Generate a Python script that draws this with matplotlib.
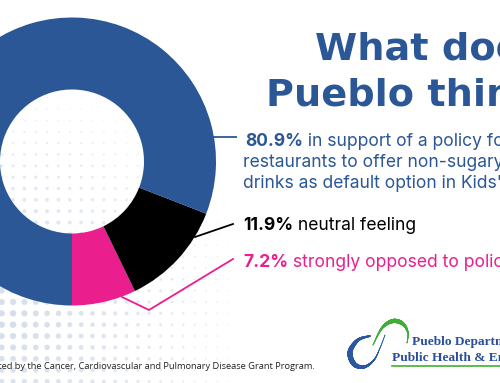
import numpy as np
import matplotlib
matplotlib.use("Agg")
import matplotlib.pyplot as plt
from matplotlib.collections import LineCollection

# ---- data ----
categories = ["in support of a policy", "neutral feeling", "strongly opposed to policy"]
values = [80.9, 11.9, 7.2]
value_labels = ["80.9%", "11.9%", "7.2%"]
label_lines = [
    ["in support of a policy for", "restaurants to offer non-sugary", "drinks as default option in Kids' meals"],
    ["neutral feeling"],
    ["strongly opposed to policy"],
]
title_lines = ["What does", "Pueblo think?"]
footer = "Supported by the Cancer, Cardiovascular and Pulmonary Disease Grant Program."
org_lines = ["Pueblo Department of", "Public Health & Environment"]

BLUE = "#2B5797"
PINK = "#EA1F8D"
BLACK = "#000000"
colors = [BLUE, BLACK, PINK]

fig = plt.figure(figsize=(5.0, 3.83), dpi=100)
ax = fig.add_axes([0, 0, 1, 1])

# ---- dotted background ----
gx = np.arange(1.7 - 11.35 * 2, 260, 11.35)
gy = np.arange(302 + 11.35 * 8, 60, -11.35)
X, Y = np.meshgrid(gx, gy)
d = np.hypot(X - 10, Y - 320)
f = np.clip(1 - d / 240, 0, 1)
m = f > 0.02
ax.scatter(X[m], Y[m], s=(0.8 + 4.2 * f[m]) ** 2 * 0.9, color="#D6DEEB",
           alpha=np.clip(0.4 + 0.6 * f[m], 0, 1), linewidths=0, zorder=0)

# ---- donut (drawn in reversed order: opposed, neutral, support) ----
ax.pie(values[::-1], colors=colors[::-1], startangle=90, counterclock=False,
       center=(72, 161.5), radius=144,
       wedgeprops=dict(width=72, linewidth=0), normalize=True)
for w in ax.patches:
    w.set_zorder(2)

# ---- leader lines ----
ax.plot([213, 237], [137, 137], color=BLUE, lw=1.3, zorder=3, solid_capstyle="butt")
ax.plot([195, 233], [237, 224], color=BLACK, lw=1.3, zorder=3)
ax.plot([122, 149, 233], [297, 310, 259], color=PINK, lw=1.3, zorder=3)

# ---- title ----
tfont = dict(family="DejaVu Sans", weight="bold", size=27.5, color=BLUE)
ax.text(315, 59, title_lines[0], va="baseline", ha="left", **tfont)
ax.text(266, 105, title_lines[1], va="baseline", ha="left", **tfont)

# ---- labels ----
bfam = "Inter"
bsize = 12.6
label_colors = [BLUE, BLACK, PINK]
starts = [(245, 146), (243, 230), (243, 267)]
for i in range(3):
    x0, y0 = starts[i]
    t1 = ax.text(x0, y0, value_labels[i], family=bfam, weight="bold", size=bsize,
                 color=label_colors[i], va="baseline", ha="left")
    ax.annotate(" " + label_lines[i][0], xy=(1, 0), xycoords=t1, va="bottom", ha="left",
                family=bfam, size=bsize, color=label_colors[i])
    for k, line in enumerate(label_lines[i][1:], start=1):
        ax.text(x0 - 2, y0 + 21 * k, line, family=bfam, size=bsize,
                color=label_colors[i], va="baseline", ha="left")

# ---- footer ----
ax.text(315, 369, footer, family="Open Sans", size=6.65, color="#222222",
        ha="right", va="baseline")

# ---- logo ----
ax.text(412, 345, org_lines[0], family="Liberation Serif", weight="bold", size=9.6,
        color="#2A4F9C", ha="left", va="baseline")
ax.text(392, 361, org_lines[1], family="Liberation Serif", weight="bold", size=9.6,
        color="#2A4F9C", ha="left", va="baseline")
ax.plot([392, 500], [366, 366], color="#41B02F", lw=1.2)


def smooth(pts, n=80):
    pts = np.asarray(pts, float)
    P = np.vstack([pts[0], pts, pts[-1]])
    out = []
    for i in range(1, len(P) - 2):
        p0, p1, p2, p3 = P[i - 1], P[i], P[i + 1], P[i + 2]
        t = np.linspace(0, 1, n)[:, None]
        out.append(0.5 * ((2 * p1) + (-p0 + p2) * t + (2 * p0 - 5 * p1 + 4 * p2 - p3) * t ** 2
                          + (-p0 + 3 * p1 - 3 * p2 + p3) * t ** 3))
    return np.vstack(out)


def swirl(pts, wmax, color, peak):
    c = smooth(pts)
    segs = np.stack([c[:-1], c[1:]], axis=1)
    s = np.linspace(0, 1, len(segs))
    w = 0.4 + wmax * np.exp(-((s - peak) / 0.28) ** 2)
    ax.add_collection(LineCollection(segs, linewidths=w, colors=color,
                                     capstyle="round", zorder=3))


swirl([(370, 336), (358, 340), (350, 352), (354, 364), (364, 367),
       (374, 360), (380, 348), (385, 335)], 3.2, "#2A57A0", 0.35)
swirl([(373, 345), (382, 328), (393, 321), (403, 324), (408, 333), (407, 343)],
      2.6, "#3DAE36", 0.45)

ax.set_xlim(0, 500)
ax.set_ylim(383, 0)
ax.set_aspect("auto")
ax.axis("off")
fig.savefig("out.png", dpi=100, facecolor="white")
